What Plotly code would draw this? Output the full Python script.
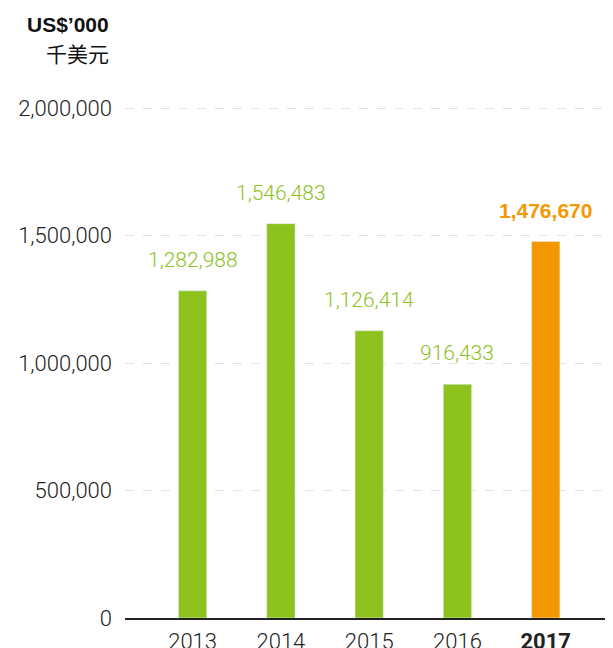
import plotly.graph_objects as go

years = ["2013", "2014", "2015", "2016", "2017"]
values = [1282988, 1546483, 1126414, 916433, 1476670]
tick_vals = [0, 500000, 1000000, 1500000, 2000000]
tick_text = ["0", "500,000", "1,000,000", "1,500,000", "2,000,000"]

GREEN = "#8DC21F"
ORANGE = "#F39800"
colors = [GREEN] * 4 + [ORANGE]

# page body has an 8px margin: figure is drawn 8px right/down
OFF = 8
W, H = 613 - OFF, 648 - OFF
L, R, T, B = 125 - OFF, 0, 100 - OFF, 30
LIGHT = "Roboto"

fig = go.Figure()
fig.add_trace(go.Bar(
    x=list(range(len(years))), y=values, marker_color=colors, width=0.32,
    hoverinfo="skip",
))

for i, v in enumerate(values):
    last = i == len(values) - 1
    txt = f"{v:,}"
    fig.add_annotation(
        x=i, y=v, xref="x", yref="y", yanchor="bottom", yshift=17,
        text=f"<b>{txt}</b>" if last else txt, showarrow=False,
        font=dict(size=21, color=ORANGE if last else GREEN,
                  family="Liberation Sans" if last else LIGHT,
                  weight=700 if last else 300),
    )


def px_to_paper(px, py):
    return (px - OFF - L) / (W - L - R), (H - B - (py - OFF)) / (H - B - T)


for text, py, fam, size in [("<b>US$’000</b>", 25, "Liberation Sans", 21),
                            ("千美元", 53, "Noto Sans CJK SC", 21)]:
    ax, ay = px_to_paper(111, py)
    fig.add_annotation(x=ax, y=ay, xref="paper", yref="paper", text=text,
                       showarrow=False, xanchor="right", yanchor="middle",
                       font=dict(size=size, color="#111", family=fam))

fig.update_layout(
    width=W, height=H,
    margin=dict(l=L, r=R, t=T, b=B, autoexpand=False),
    paper_bgcolor="white", plot_bgcolor="white",
    showlegend=False,
    font=dict(family=LIGHT, size=22, color="#222"),
    xaxis=dict(
        range=[-0.766, 4.762], tickmode="array",
        tickvals=list(range(len(years))),
        ticktext=years[:-1] + ["<b>" + years[-1] + "</b>"],
        showgrid=False, zeroline=False, showline=True, linecolor="#222",
        linewidth=2, ticks="", ticklabelstandoff=3, automargin=False,
        tickfont=dict(size=22, color="#222", family=LIGHT, weight=300),
    ),
    yaxis=dict(
        range=[0, 2031373], tickmode="array", tickvals=tick_vals,
        ticktext=tick_text, showgrid=True, gridcolor="#E2E2E2",
        griddash="dash", gridwidth=1, zeroline=False, ticks="",
        ticklabelstandoff=12, automargin=False,
        tickfont=dict(size=22, color="#222", family=LIGHT, weight=300),
    ),
)

fig.write_html("out.html")
